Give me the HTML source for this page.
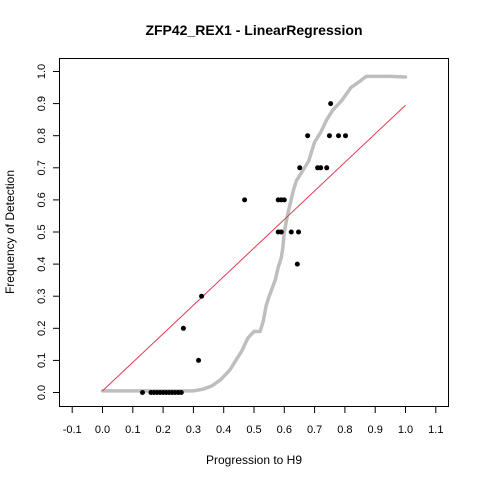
<!DOCTYPE html>
<html><head><meta charset="utf-8"><style>body{margin:0;background:#fff}svg{display:block}text{font-family:"Liberation Sans",sans-serif}</style></head>
<body>
<svg id="chart" width="480" height="480" xmlns="http://www.w3.org/2000/svg">
<rect x="0" y="0" width="480" height="480" fill="#fff"/>
<text x="254" y="35" text-anchor="middle" font-size="14" font-weight="bold">ZFP42_REX1 - LinearRegression</text>
<rect x="59.5" y="58.5" width="389" height="348" fill="none" stroke="#000" stroke-width="1"/>
<text x="254" y="464" text-anchor="middle" font-size="12">Progression to H9</text>
<text transform="translate(14,232) rotate(-90)" text-anchor="middle" font-size="12">Frequency of Detection</text>
<g id="axes"></g>
<g id="marks"></g>
</svg>
<script>
const xTicks=[-0.1,0,0.1,0.2,0.3,0.4,0.5,0.6,0.7,0.8,0.9,1.0,1.1];
const yTicks=[0,0.1,0.2,0.3,0.4,0.5,0.6,0.7,0.8,0.9,1.0];
const grayX=[0,0.1,0.2,0.3,0.33,0.36,0.39,0.42,0.44,0.46,0.48,0.5,0.52,0.53,0.54,0.55,0.57,0.58,0.59,0.595,0.6,0.61,0.62,0.63,0.64,0.66,0.68,0.69,0.7,0.72,0.74,0.76,0.79,0.82,0.85,0.87,0.95,1.0];
const grayY=[0.005,0.005,0.005,0.005,0.01,0.02,0.04,0.07,0.1,0.13,0.17,0.19,0.19,0.22,0.27,0.3,0.35,0.39,0.42,0.45,0.5,0.55,0.59,0.63,0.66,0.69,0.72,0.75,0.78,0.81,0.85,0.88,0.91,0.95,0.97,0.985,0.985,0.983];
const ptX=[0.132,0.16,0.17,0.18,0.19,0.2,0.21,0.22,0.23,0.24,0.25,0.26,0.267,0.317,0.327,0.469,0.58,0.59,0.6,0.58,0.59,0.623,0.647,0.643,0.651,0.71,0.72,0.74,0.677,0.749,0.779,0.802,0.753];
const ptY=[0,0,0,0,0,0,0,0,0,0,0,0,0.2,0.1,0.3,0.6,0.6,0.6,0.6,0.5,0.5,0.5,0.5,0.4,0.7,0.7,0.7,0.7,0.8,0.8,0.8,0.8,0.9];
const fitIntercept=0.005, fitSlope=0.89;
const X=v=>102.5+v*303, Y=v=>392.5-v*321;
const NS="http://www.w3.org/2000/svg";
const axes=document.getElementById('axes'), marks=document.getElementById('marks');
function mk(tag,attrs,parent){const e=document.createElementNS(NS,tag);for(const k in attrs)e.setAttribute(k,attrs[k]);parent.appendChild(e);return e;}
xTicks.forEach(t=>{
 const l=mk('line',{x1:X(t),x2:X(t),y1:407,y2:413,stroke:'#000'},axes);
 
 
 const tx=mk('text',{x:X(t),y:433,'text-anchor':'middle','font-size':'11'},axes);
 
 
 tx.textContent=t.toFixed(1);
});
yTicks.forEach(t=>{
 const l=mk('line',{x1:53,x2:59,y1:Y(t),y2:Y(t),stroke:'#000'},axes);
 
 
 const tx=mk('text',{transform:`translate(45,${Y(t)}) rotate(-90)`,'text-anchor':'middle','font-size':'11'},axes);
 
 
 tx.textContent=t.toFixed(1);
});
const pl=mk('polyline',{points:grayX.map((x,i)=>X(x)+','+Y(grayY[i])).join(' '),fill:'none',stroke:'#bebebe','stroke-width':3.5,'stroke-linejoin':'round','stroke-linecap':'round'},marks);


const fl=mk('line',{x1:X(0),y1:Y(fitIntercept),x2:X(1),y2:Y(fitIntercept+fitSlope),stroke:'#e8384f','stroke-width':1},marks);


ptX.forEach((x,i)=>{
 const c=mk('circle',{cx:X(x),cy:Y(ptY[i]),r:2.5,fill:'#000'},marks);
 
 
});
</script>
</body></html>
